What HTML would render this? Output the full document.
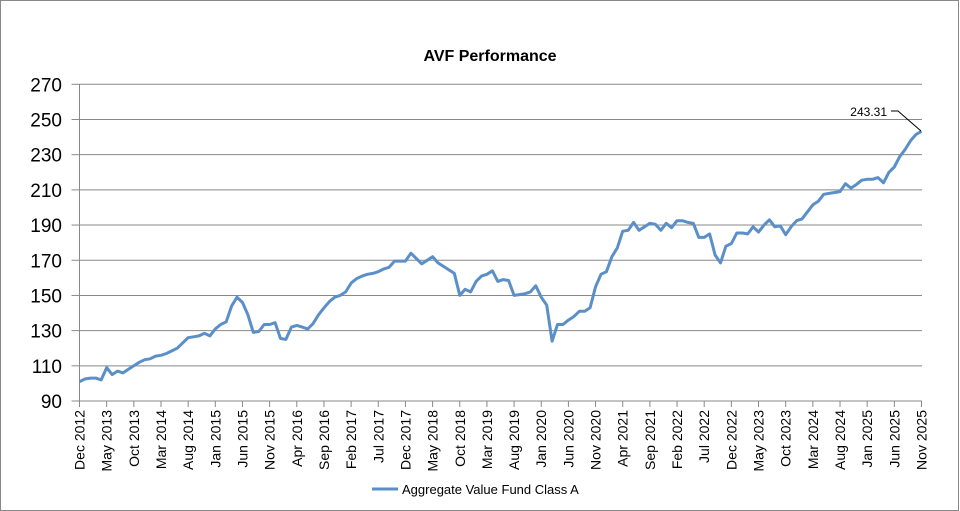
<!DOCTYPE html>
<html><head><meta charset="utf-8"><style>
html,body{margin:0;padding:0;background:#fff}
svg{display:block;font-family:"Liberation Sans",Arial,sans-serif}
</style></head><body>
<svg id="s" width="960" height="511" viewBox="0 0 960 511" xmlns="http://www.w3.org/2000/svg">
<rect x="0.5" y="0.5" width="958" height="510" fill="#fff" stroke="#888"/>
<text x="490" y="61" text-anchor="middle" font-size="16" font-weight="bold" fill="#000">AVF Performance</text>
<g id="grid"></g>
<g id="lab"></g>
<polyline id="ln" fill="none" stroke="#5b8fc7" stroke-width="3" stroke-linejoin="round"/>
<text x="887" y="116" text-anchor="end" font-size="12" fill="#000">243.31</text>
<polyline points="891,111 898,111 921,131" fill="none" stroke="#000" stroke-width="1"/>
<line x1="372" y1="489" x2="398" y2="489" stroke="#5b8fc7" stroke-width="3"/>
<text x="402" y="494" font-size="13" fill="#000">Aggregate Value Fund Class A</text>
</svg>
<script>
var v=[101,102.5,103,103,102,109,105,107,106,108,110,112,113.5,114,115.5,116,117,118.5,120,123,126,126.5,127,128.5,127,131,133.5,135,144,149,146,139,129,129.5,133.5,133.5,134.5,125.5,125,132,133,132,131,134,139,143,146.5,149,150,152,157,159.5,161,162,162.5,163.5,165,166,169.5,169.5,169.5,174,171,168,170,172,168.5,166.5,164.5,162.5,150,153.5,152,158,161,162,164,158,159,158.5,150,150.5,151,152,155.5,149,144.5,124,133.5,133.5,136,138,141,141,143,155,162,163.5,172,177,186.5,187,191.5,187,189,191,190.5,187,191,188.5,192.5,192.5,191.5,191,183,183,185,173,168.5,178,179.5,185.5,185.5,185,189,186,190,193,189,189.5,184.5,189,192.5,193.5,197.5,201.5,203.5,207.5,208,208.5,209,213.5,211,213,215.5,216,216,217,214,220,223,229,233,238,241.5,243.31];
var x0=79.5,dx=(921.5-79.5)/155,Y=function(t){return 84.3+(270-t)*1.7595};
var ns="http://www.w3.org/2000/svg";
var g=document.getElementById('grid'),L=document.getElementById('lab');
function el(p,tag,a,txt){var e=document.createElementNS(ns,tag);for(var k in a)e.setAttribute(k,a[k]);if(txt)e.textContent=txt;p.appendChild(e);return e;}
for(var t=90;t<=270;t+=20){var y=Y(t);
 if(t>90)el(g,'line',{x1:x0,x2:922,y1:y,y2:y,stroke:'#888','stroke-width':1});
 el(g,'line',{x1:x0-8,x2:x0,y1:y,y2:y,stroke:'#888','stroke-width':1});
 el(L,'text',{x:62,y:y+7,'text-anchor':'end','font-size':19,fill:'#000'},String(t));}
el(g,'line',{x1:x0,x2:x0,y1:Y(270),y2:Y(90),stroke:'#888'});
el(g,'line',{x1:x0,x2:922,y1:Y(90),y2:Y(90),stroke:'#888'});
var M=['Jan','Feb','Mar','Apr','May','Jun','Jul','Aug','Sep','Oct','Nov','Dec'];
for(var m=0;m<=155;m+=5){var x=x0+m*dx;var mo=(11+m)%12,yr=2012+Math.floor((11+m)/12);
 el(g,'line',{x1:x,x2:x,y1:Y(90),y2:Y(90)+6,stroke:'#888'});
 el(L,'text',{transform:'translate('+(x+5)+',410) rotate(-90)','text-anchor':'end','font-size':14,fill:'#000'},M[mo]+' '+yr);}
var p=v.map(function(t,i){return (x0+i*dx).toFixed(1)+','+Y(t).toFixed(1)}).join(' ');
document.getElementById('ln').setAttribute('points',p);
</script>
</body></html>
